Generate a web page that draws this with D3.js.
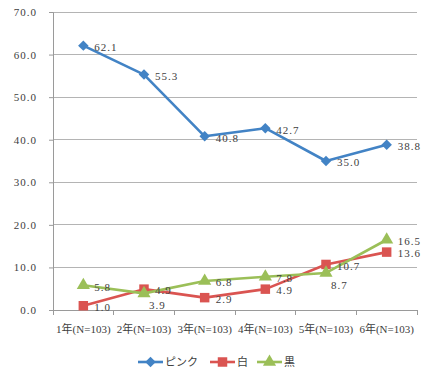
<!DOCTYPE html>
<html><head><meta charset="utf-8">
<script src="https://cdn.jsdelivr.net/npm/d3@7"></script>
<style>
html,body{margin:0;padding:0;background:#fff;}
svg text{font-family:"Liberation Serif","Noto Sans CJK JP",serif;fill:#404040;}
</style></head>
<body><svg id="chart" width="429" height="377"></svg>
<script>
const categories = ["1年(N=103)","2年(N=103)","3年(N=103)","4年(N=103)","5年(N=103)","6年(N=103)"];
const seriesNames = ["ピンク","白","黒"];
const pinkValues = [62.1, 55.3, 40.8, 42.7, 35.0, 38.8];
const whiteValues = [1.0, 4.9, 2.9, 4.9, 10.7, 13.6];
const blackValues = [5.8, 3.9, 6.8, 7.8, 8.7, 16.5];
const yTicks = [0, 10, 20, 30, 40, 50, 60, 70];

const colors = ["#4283C5", "#DA5451", "#9BBF58"];
const symbols = [d3.symbolDiamond2, d3.symbolSquare, d3.symbolTriangle];
const symSizes = [70, 90, 75];
const allValues = [pinkValues, whiteValues, blackValues];

const svg = d3.select("#chart");
const m = {left:53, right:12, top:12, bottom:67};
const W = 429, H = 377;
const x = d3.scaleBand().domain(categories).range([m.left, W - m.right]);
const y = d3.scaleLinear().domain([0, 70]).range([H - m.bottom, m.top]);
const cx = c => x(c) + x.bandwidth()/2;
const fmt = d3.format(".1f");

// gridlines
svg.append("g").selectAll("line").data(yTicks.filter(t => t > 0)).join("line")
  .attr("x1", m.left).attr("x2", W - m.right)
  .attr("y1", d => y(d)).attr("y2", d => y(d))
  .attr("stroke", "#b4b4b4").attr("stroke-width", 1).attr("shape-rendering","crispEdges");

// y axis
const yAxis = svg.append("g").attr("transform", `translate(${m.left},0)`)
  .call(d3.axisLeft(y).tickValues(yTicks).tickFormat(fmt).tickSize(4).tickPadding(12));
yAxis.select(".domain").attr("stroke", "#9a9a9a");
yAxis.selectAll(".tick line").attr("stroke", "#9a9a9a");
yAxis.selectAll("text").attr("font-size", 11).attr("fill","#404040")
  .style("letter-spacing","1px")
  .attr("font-family", '"Liberation Serif",serif');

// x axis
const xAxis = svg.append("g").attr("transform", `translate(0,${y(0)})`)
  .call(d3.axisBottom(x).tickSize(0).tickPadding(0));
xAxis.select(".domain").attr("stroke", "#9a9a9a");
xAxis.selectAll(".tick text").attr("font-size", 11).attr("dy", "2.1em").attr("fill","#404040");
// band boundary ticks
const bounds = categories.map(c => x(c)).concat([W - m.right]);
svg.append("g").selectAll("line").data(bounds).join("line")
  .attr("x1", d => d).attr("x2", d => d)
  .attr("y1", y(0)).attr("y2", y(0) + 5)
  .attr("stroke", "#9a9a9a").attr("shape-rendering","crispEdges");

// lines & markers
const line = d3.line().x((d,i) => cx(categories[i])).y(d => y(d));
allValues.forEach((vals, s) => {
  svg.append("path").datum(vals).attr("d", line)
    .attr("fill","none").attr("stroke", colors[s]).attr("stroke-width", 2.6)
    .attr("stroke-linejoin","round");
  svg.append("g").selectAll("path").data(vals).join("path")
    .attr("d", d3.symbol().type(symbols[s]).size(symSizes[s]))
    .attr("transform", (d,i) => `translate(${cx(categories[i])},${y(d)})`)
    .attr("fill", colors[s]);
});

// data labels
function isBelow(s, i) {
  const v = allValues[s][i];
  return allValues.some((o, k) => k !== s && o[i] > v && o[i] - v < 2.5);
}
allValues.forEach((vals, s) => {
  svg.append("g").selectAll("text").data(vals).join("text")
    .attr("x", (d,i) => cx(categories[i]) + (isBelow(s, i) ? 5 : 11))
    .attr("y", (d,i) => y(d) + (isBelow(s, i) ? 12 : 1.5))
    .attr("dy", "0.35em")
    .attr("font-size", 11).attr("fill", "#404040")
    .style("letter-spacing","1px")
    .text(d => fmt(d));
});

// legend
const legendX = [138, 210, 257];
const lg = svg.append("g").attr("transform", `translate(0,362)`);
seriesNames.forEach((name, s) => {
  const g = lg.append("g").attr("transform", `translate(${legendX[s]},0)`);
  g.append("line").attr("x1", 0).attr("x2", 25).attr("y1", 0).attr("y2", 0)
    .attr("stroke", colors[s]).attr("stroke-width", 2.6);
  g.append("path").attr("d", d3.symbol().type(symbols[s]).size(symSizes[s]))
    .attr("transform", "translate(12.5,0)").attr("fill", colors[s]);
  g.append("text").attr("x", 27).attr("y", 0).attr("dy", "0.35em")
    .attr("font-size", 11).attr("fill","#404040").text(name);
});
</script></body></html>
